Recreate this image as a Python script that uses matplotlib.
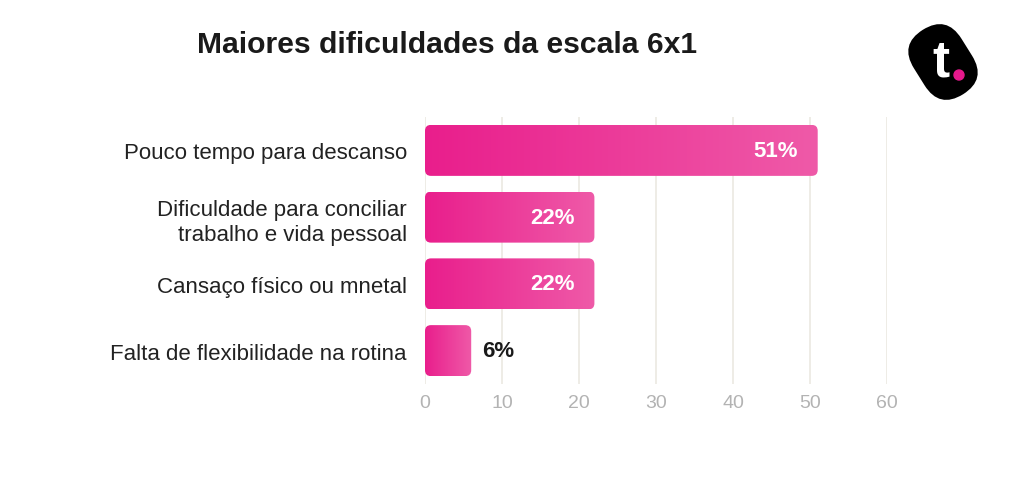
import matplotlib
matplotlib.use("Agg")
import matplotlib.pyplot as plt
import numpy as np
from matplotlib.patches import FancyBboxPatch
from matplotlib import transforms
from matplotlib.colors import LinearSegmentedColormap

categories = ["Pouco tempo para descanso",
              "Dificuldade para conciliar\ntrabalho e vida pessoal",
              "Cansaço físico ou mnetal",
              "Falta de flexibilidade na rotina"]
values = [51, 22, 22, 6]
value_labels = ["51%", "22%", "22%", "6%"]
xticks = [0, 10, 20, 30, 40, 50, 60]
title = "Maiores dificuldades da escala 6x1"

plt.rcParams['font.family'] = ['Liberation Sans', 'DejaVu Sans']

W, H = 1024, 481
fig = plt.figure(figsize=(W/100, H/100), dpi=100)
ax = fig.add_axes([425/W, 1-385/H, (887-425)/W, (385-118)/H])

xmin, xmax = 0, 60
ymin, ymax = -0.5, 3.5
ax.set_xlim(xmin, xmax)
ax.set_ylim(ymax, ymin)

ax_w_px = 887-425
ax_h_px = 385-118
x_per_px = (xmax-xmin)/ax_w_px
y_per_px = (ymax-ymin)/ax_h_px

cmap = LinearSegmentedColormap.from_list("pink", ["#e91e8c", "#ef5aa8"])
grad = np.linspace(0, 1, 256).reshape(1, -1)

bar_h = 51*y_per_px
for i, (v, lab) in enumerate(zip(values, value_labels)):
    y0 = i - bar_h/2
    patch = FancyBboxPatch((0, y0), v, bar_h,
                           boxstyle=f"round,pad=0,rounding_size={6*x_per_px}",
                           mutation_aspect=y_per_px/x_per_px,
                           facecolor="none", edgecolor="none")
    ax.add_patch(patch)
    im = ax.imshow(grad, extent=(0, v, y0+bar_h, y0), aspect='auto', cmap=cmap,
                   interpolation='bicubic', zorder=2)
    im.set_clip_path(patch)
    if v > 10:
        ax.text(v - 20*x_per_px, i, lab, ha='right', va='center', color='white',
                fontsize=16, fontweight='bold', zorder=3)
    else:
        ax.text(v + 11*x_per_px, i, lab, ha='left', va='center', color='#1a1a1a',
                fontsize=16, fontweight='bold', zorder=3)

ax.set_xlim(xmin, xmax)
ax.set_ylim(ymax, ymin)
ax.set_xticks(xticks)
ax.set_xticklabels([str(t) for t in xticks], color='#b3b3b3', fontsize=14)
ax.set_yticks(range(len(categories)))
ax.set_yticklabels(categories, fontsize=16, color='#222222', ha='right')
ax.tick_params(axis='both', length=0)
ax.tick_params(axis='x', pad=7)
ax.tick_params(axis='y', pad=13)
for t in ax.get_yticklabels():
    t.set_multialignment('right')
    t.set_linespacing(1.3)
for s in ax.spines.values():
    s.set_visible(False)
ax.grid(axis='x', color='#ebe9e2', linewidth=1.2, zorder=0)
ax.set_axisbelow(True)

fig.text(197/W, 1-45/H, title, fontsize=21.7, fontweight='bold', color='#1a1a1a',
         ha='left', va='center')

# logo
lax = fig.add_axes([0, 0, 1, 1], facecolor='none')
lax.set_xlim(0, W)
lax.set_ylim(H, 0)
lax.axis('off')
cx, cy = 943, 63
lw, lh = 76, 56
rot = transforms.Affine2D().rotate_deg_around(cx, cy, 58) + lax.transData
pill = FancyBboxPatch((cx-lw/2, cy-lh/2), lw, lh,
                      boxstyle=f"round,pad=0,rounding_size={lh/2}",
                      facecolor='black', edgecolor='none', transform=rot)
lax.add_patch(pill)
lax.text(941, 63, "t", color='white', fontsize=37, fontweight='bold',
         ha='center', va='center')
lax.add_patch(plt.Circle((959, 76), 5, color='#e6198c'))

fig.savefig("out.png", dpi=100, facecolor='white')
